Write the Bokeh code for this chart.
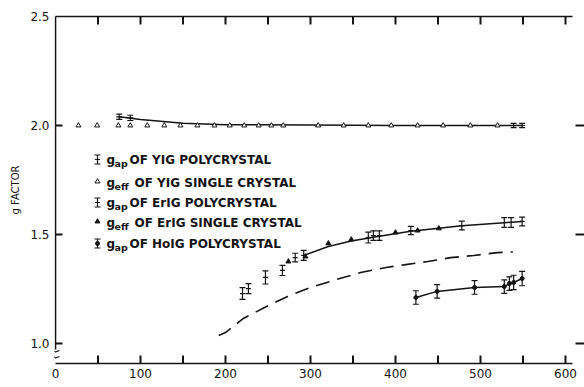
from bokeh.plotting import figure
from bokeh.models import (Whisker, TeeHead, ColumnDataSource, FixedTicker,
                          Label, Range1d, PrintfTickFormatter)
from bokeh.embed import file_html
from bokeh.resources import INLINE

FONT = "DejaVu Sans"
INK = "#141414"

# ---------------- data ----------------
x_ticks = [0, 100, 200, 300, 400, 500, 600]
x_minor = [50, 150, 250, 350, 450, 550]
y_ticks = [1.0, 1.5, 2.0, 2.5]
right_ticks = [1.0, 1.5, 2.0]

# g_eff of YIG single crystal (open triangles)
yig_sc_T = [27, 49, 74, 88, 108, 128, 147, 167, 187, 205, 222, 239, 254, 268,
            309, 339, 368, 395, 426, 456, 488, 520]
yig_sc_g = [2.0] * len(yig_sc_T)

# g_ap of YIG polycrystal (error bars) and its curve
yig_pc_T = [75, 88, 539, 549]
yig_pc_g = [2.040, 2.035, 2.000, 2.000]
yig_pc_err = [0.012, 0.012, 0.010, 0.010]
yig_curve_T = [75, 100, 150, 200, 300, 400, 549]
yig_curve_g = [2.040, 2.028, 2.010, 2.004, 2.002, 2.000, 2.000]

# g_ap of ErIG polycrystal
er_pc_T = [220, 227, 247, 267, 282, 292, 368, 374, 381, 418, 478, 528, 536, 549]
er_pc_g = [1.229, 1.252, 1.303, 1.335, 1.394, 1.404, 1.486, 1.495, 1.495,
           1.518, 1.541, 1.555, 1.555, 1.560]
er_pc_err = [0.027, 0.023, 0.030, 0.023, 0.020, 0.023, 0.025, 0.022, 0.022,
             0.019, 0.020, 0.022, 0.022, 0.020]

# g_eff of ErIG single crystal (filled triangles)
er_sc_T = [274, 294, 321, 348, 400, 426, 451]
er_sc_g = [1.376, 1.399, 1.459, 1.477, 1.509, 1.518, 1.528]

# solid curve through ErIG points
er_curve_T = [292, 321, 348, 381, 418, 451, 478, 528, 549]
er_curve_g = [1.404, 1.445, 1.470, 1.492, 1.515, 1.529, 1.540, 1.554, 1.560]

# dashed curve
dash_T = [192, 200, 221, 246, 273, 300, 331, 359, 389, 412, 438, 465, 492, 520, 538]
dash_g = [1.037, 1.050, 1.115, 1.165, 1.216, 1.257, 1.294, 1.326, 1.349, 1.362,
          1.376, 1.394, 1.404, 1.417, 1.420]

# g_ap of HoIG polycrystal
ho_T = [424, 449, 493, 528, 534, 539, 549]
ho_g = [1.211, 1.239, 1.257, 1.261, 1.275, 1.280, 1.298]
ho_err = [0.031, 0.031, 0.031, 0.031, 0.031, 0.033, 0.033]

legend_rows = [
    ("ap", "OF YIG POLYCRYSTAL"),
    ("eff", "OF YIG SINGLE CRYSTAL"),
    ("ap", "OF ErIG POLYCRYSTAL"),
    ("eff", "OF ErIG SINGLE CRYSTAL"),
    ("ap", "OF HoIG POLYCRYSTAL"),
]

# ---------------- geometry helpers (screen px -> data) ----------------
X0, Y0 = 55.0, 16.0          # screen px of T=0 and g=2.5
PX_PER_K = 0.85
PX_PER_G = 218.0


def px2x(px):
    return (px - X0) / PX_PER_K


def px2y(py):
    return 2.5 - (py - Y0) / PX_PER_G


F_L, F_R, F_T, F_B = 54, 584, 14, 365   # frame edges in px

p = figure(width=584, height=387, output_backend="svg", toolbar_location=None,
           x_range=Range1d(px2x(F_L), px2x(F_R)),
           y_range=Range1d(px2y(F_B), px2y(F_T)),
           min_border_left=F_L, min_border_right=0, min_border_top=F_T,
           min_border_bottom=387 - F_B)
p.outline_line_color = None
p.grid.visible = False
p.background_fill_color = "white"

for ax in p.xaxis:
    ax.ticker = FixedTicker(ticks=x_ticks, minor_ticks=[])
    ax.axis_line_color = None
    ax.major_tick_line_color = None
    ax.major_tick_in = 0
    ax.major_tick_out = 0
    ax.major_label_text_font = FONT
    ax.major_label_text_font_size = "12px"
    ax.major_label_text_color = INK
    ax.major_label_standoff = 3

for ax in p.yaxis:
    ax.ticker = FixedTicker(ticks=y_ticks, minor_ticks=[])
    ax.formatter = PrintfTickFormatter(format="%.1f")
    ax.axis_line_color = None
    ax.major_tick_line_color = None
    ax.major_tick_in = 0
    ax.major_tick_out = 0
    ax.major_label_text_font = FONT
    ax.major_label_text_font_size = "12px"
    ax.major_label_text_color = INK
    ax.major_label_standoff = 5
    ax.axis_label = "g FACTOR"
    ax.axis_label_text_font = FONT
    ax.axis_label_text_font_size = "10px"
    ax.axis_label_text_font_style = "normal"
    ax.axis_label_text_color = INK
    ax.axis_label_standoff = 6

# ---- frame lines ----
xl, xr = px2x(55), px2x(572)
yb, yt = px2y(363), px2y(16)
p.multi_line(xs=[[xl, xr], [xl, xr], [0.0, 0.0]],
             ys=[[yb, yb], [yt, yt], [yt, px2y(349)]],
             line_color=INK, line_width=1.6)

# ---- ticks ----
tk_xs, tk_ys = [], []
all_x = sorted([t for t in x_ticks + x_minor if t > 0])
for t in all_x:
    tk_xs.append([float(t), float(t)])
    tk_ys.append([yb, px2y(355)])
    tk_xs.append([float(t), float(t)])
    tk_ys.append([yt, px2y(24)])
for v in y_ticks:
    if v < 2.5:
        tk_xs.append([0.0, px2x(62)])
        tk_ys.append([float(v), float(v)])
for v in right_ticks:
    tk_xs.append([px2x(575), px2x(584)])
    tk_ys.append([float(v), float(v)])
p.multi_line(xs=tk_xs, ys=tk_ys, line_color=INK, line_width=2.0)

# axis-break marks on the left axis
p.line([px2x(48), px2x(51), px2x(55), px2x(59)],
       [px2y(350), px2y(348.5), px2y(351.5), px2y(350)], line_color=INK, line_width=1.2)
p.line([px2x(48), px2x(51), px2x(55), px2x(59)],
       [px2y(356), px2y(354.5), px2y(357.5), px2y(356)], line_color=INK, line_width=1.2)

# ---- curves ----
p.line(yig_curve_T, yig_curve_g, line_color=INK, line_width=1.5)
p.line(er_curve_T, er_curve_g, line_color=INK, line_width=1.5)
p.line(dash_T, dash_g, line_color=INK, line_width=1.6, line_dash="14 8")
p.line(ho_T, ho_g, line_color=INK, line_width=1.5)


def errbars(T, g, err):
    src = ColumnDataSource(dict(T=list(T), lo=[a - b for a, b in zip(g, err)],
                                hi=[a + b for a, b in zip(g, err)]))
    w = Whisker(source=src, base="T", lower="lo", upper="hi",
                dimension="height", line_color=INK, line_width=1.2,
                upper_head=TeeHead(size=6, line_color=INK, line_width=1.2),
                lower_head=TeeHead(size=6, line_color=INK, line_width=1.2))
    p.add_layout(w)


errbars(yig_pc_T, yig_pc_g, yig_pc_err)
errbars(er_pc_T, er_pc_g, er_pc_err)
errbars(ho_T, ho_g, ho_err)

p.scatter(yig_pc_T, yig_pc_g, marker="dash", size=6, line_color=INK, line_width=1.2)
p.scatter(er_pc_T, er_pc_g, marker="dash", size=5, line_color=INK, line_width=1.2)
p.scatter(yig_sc_T, yig_sc_g, marker="triangle", size=5, fill_color="white",
          line_color=INK, line_width=1.0)
p.scatter(er_sc_T, er_sc_g, marker="triangle", size=5, fill_color=INK,
          line_color=INK)
p.scatter(ho_T, ho_g, marker="circle", size=4, fill_color=INK, line_color=INK)

# ---- legend (drawn manually) ----
row_y = [159, 182, 202, 222, 243]
sym_x = px2x(97)
lg_xs, lg_ys = [], []
for i, (sub, txt) in enumerate(legend_rows):
    yc = px2y(row_y[i])
    if i in (0, 2, 4):
        hb = 4.5 / PX_PER_G
        dx = 3 / PX_PER_K
        lg_xs += [[sym_x, sym_x], [sym_x - dx, sym_x + dx], [sym_x - dx, sym_x + dx]]
        lg_ys += [[yc - hb, yc + hb], [yc - hb, yc - hb], [yc + hb, yc + hb]]
        if i == 4:
            p.scatter([sym_x], [yc], marker="circle", size=4, fill_color=INK, line_color=INK)
        else:
            p.scatter([sym_x], [yc], marker="dash", size=5, line_color=INK, line_width=1.2)
    else:
        p.scatter([sym_x], [yc + 1 / PX_PER_G], marker="triangle", size=5,
                  fill_color="white" if i == 1 else INK, line_color=INK)
    p.add_layout(Label(x=px2x(106), y=yc, text="g", text_font=FONT,
                       text_font_size="12px", text_font_style="bold",
                       text_baseline="middle", text_color=INK))
    p.add_layout(Label(x=px2x(114), y=px2y(row_y[i] + 4), text=sub, text_font=FONT,
                       text_font_size="9.5px", text_font_style="bold",
                       text_baseline="middle", text_color=INK))
    p.add_layout(Label(x=px2x(129 if sub == "ap" else 134), y=yc, text=txt,
                       text_font=FONT, text_font_size="12px", text_font_style="bold",
                       text_baseline="middle", text_color=INK))
p.multi_line(xs=lg_xs, ys=lg_ys, line_color=INK, line_width=1.2)

# x-axis title
p.add_layout(Label(x=px2x(335), y=px2y(374), text="T(°K)", text_font=FONT,
                   text_font_size="11px", text_baseline="top", text_color=INK))

open("out.html", "w").write(file_html(p, INLINE))
